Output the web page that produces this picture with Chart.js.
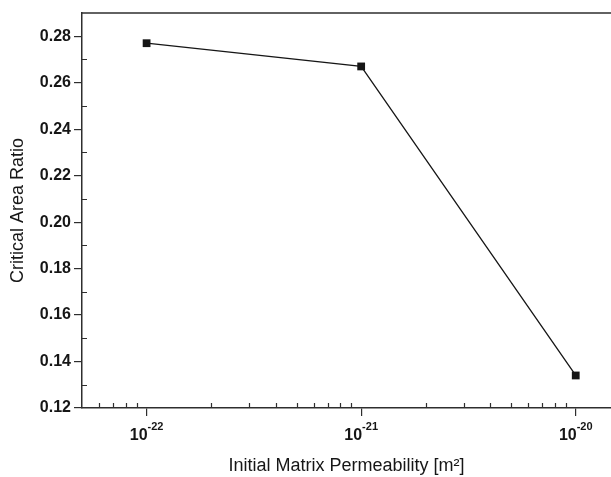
<!DOCTYPE html>
<html>
<head>
<meta charset="utf-8">
<script src="https://cdn.jsdelivr.net/npm/chart.js@4/dist/chart.umd.min.js"></script>
<style>
  html, body { margin: 0; padding: 0; background: #ffffff; }
  #wrap { width: 611px; height: 477px; }
</style>
</head>
<body>
<div id="wrap"><canvas id="c" width="611" height="477"></canvas></div>
<script>
// Permeability values (m^2) and the critical area ratio measured at each
const permeability = [1e-22, 1e-21, 1e-20];
const criticalRatio = [0.277, 0.267, 0.134];

// Axis ticks
const xMajorTicks = [1e-22, 1e-21, 1e-20];
const xMajorExponents = ['-22', '-21', '-20'];
const xMinorTicks = [6e-23, 7e-23, 8e-23, 9e-23,
  2e-22, 3e-22, 4e-22, 5e-22, 6e-22, 7e-22, 8e-22, 9e-22,
  2e-21, 3e-21, 4e-21, 5e-21, 6e-21, 7e-21, 8e-21, 9e-21];
const yMajorTicks = [0.12, 0.14, 0.16, 0.18, 0.20, 0.22, 0.24, 0.26, 0.28];
const yMinorTicks = [0.13, 0.15, 0.17, 0.19, 0.21, 0.23, 0.25, 0.27];

const AXIS_COLOR = '#2e2e2e';
const TEXT_COLOR = '#161616';
const FONT = "'Liberation Sans', Arial, Helvetica, sans-serif";

// Top frame line, inward minor ticks and superscripted decade labels
const frameAndTicks = {
  id: 'frameAndTicks',
  afterDraw(chart) {
    const ctx = chart.ctx;
    const area = chart.chartArea;
    const xs = chart.scales.x;
    const ys = chart.scales.y;
    ctx.save();
    ctx.strokeStyle = AXIS_COLOR;
    ctx.lineWidth = 1.5;
    ctx.beginPath();
    ctx.moveTo(area.left - 0.75, area.top);
    ctx.lineTo(area.right, area.top);
    ctx.stroke();

    ctx.lineWidth = 1.2;
    ctx.beginPath();
    xMinorTicks.forEach(v => {
      const px = Math.round(xs.getPixelForValue(v)) + 0.5;
      ctx.moveTo(px, area.bottom);
      ctx.lineTo(px, area.bottom - 5);
    });
    yMinorTicks.forEach(v => {
      const py = Math.round(ys.getPixelForValue(v)) + 0.5;
      ctx.moveTo(area.left, py);
      ctx.lineTo(area.left + 5, py);
    });
    ctx.stroke();

    ctx.fillStyle = TEXT_COLOR;
    ctx.textBaseline = 'alphabetic';
    ctx.textAlign = 'left';
    xMajorTicks.forEach((v, i) => {
      const px = xs.getPixelForValue(v);
      ctx.font = 'bold 16px ' + FONT;
      const wBase = ctx.measureText('10').width;
      ctx.font = 'bold 11px ' + FONT;
      const wExp = ctx.measureText(xMajorExponents[i]).width;
      const start = px - (wBase + wExp) / 2;
      ctx.font = 'bold 16px ' + FONT;
      ctx.fillText('10', start, 440);
      ctx.font = 'bold 11px ' + FONT;
      ctx.fillText(xMajorExponents[i], start + wBase, 430);
    });
    ctx.restore();
  }
};

new Chart(document.getElementById('c'), {
  type: 'line',
  data: {
    datasets: [{
      data: permeability.map((p, i) => ({ x: p, y: criticalRatio[i] })),
      borderColor: TEXT_COLOR,
      borderWidth: 1.3,
      backgroundColor: TEXT_COLOR,
      pointStyle: 'rect',
      pointRadius: 5.5,
      pointHoverRadius: 5.5,
      pointBorderWidth: 0,
      tension: 0
    }]
  },
  options: {
    responsive: false,
    animation: false,
    events: [],
    layout: { autoPadding: false, padding: { top: 13, right: 0, left: 0, bottom: 0 } },
    plugins: { legend: { display: false }, tooltip: { enabled: false } },
    scales: {
      x: {
        type: 'logarithmic',
        min: 5e-23,
        max: 1.46e-20,
        afterBuildTicks(scale) { scale.ticks = xMajorTicks.map(v => ({ value: v, major: true })); },
        afterFit(scale) { scale.height = 69; },
        grid: { drawOnChartArea: false, drawTicks: true, tickLength: 8, color: AXIS_COLOR, lineWidth: 1.2 },
        border: { display: true, color: AXIS_COLOR, width: 1.5 },
        ticks: { display: false },
        title: {
          display: true,
          text: 'Initial Matrix Permeability [m²]',
          color: TEXT_COLOR,
          font: { family: FONT, size: 18, weight: 'normal' },
          padding: { top: 0, bottom: 0 }
        }
      },
      y: {
        type: 'linear',
        min: 0.12,
        max: 0.29,
        afterBuildTicks(scale) { scale.ticks = yMajorTicks.map(v => ({ value: v })); },
        afterFit(scale) { scale.width = 82; },
        grid: { drawOnChartArea: false, drawTicks: true, tickLength: 8, color: AXIS_COLOR, lineWidth: 1.2 },
        border: { display: true, color: AXIS_COLOR, width: 1.5 },
        ticks: {
          color: TEXT_COLOR,
          padding: 3,
          font: { family: FONT, size: 16, weight: 'bold' },
          callback: v => v.toFixed(2)
        },
        title: {
          display: true,
          text: 'Critical Area Ratio',
          color: TEXT_COLOR,
          font: { family: FONT, size: 18, weight: 'normal' },
          padding: { top: 7, bottom: 0 }
        }
      }
    }
  },
  plugins: [frameAndTicks]
});
</script>
</body>
</html>
